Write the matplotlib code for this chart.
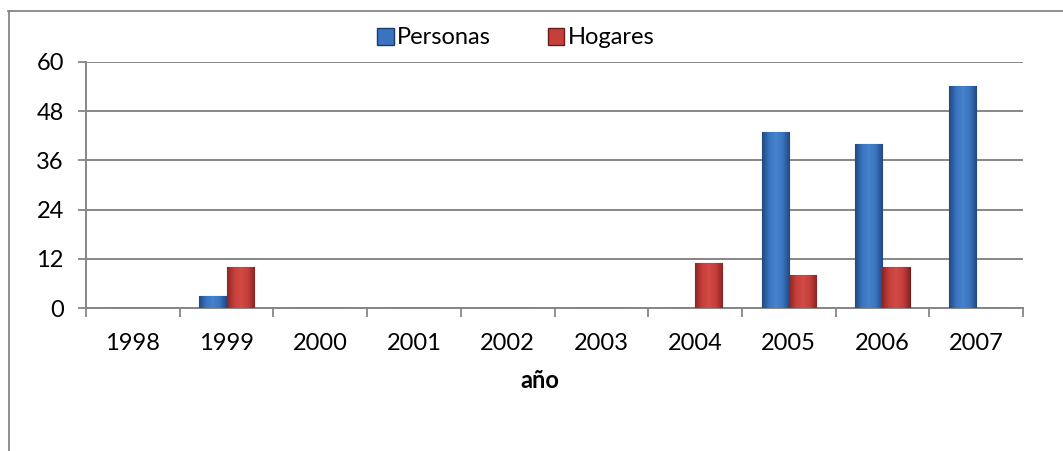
import numpy as np
import matplotlib
matplotlib.use("Agg")
from matplotlib import pyplot as plt
from matplotlib.patches import Patch
from matplotlib.lines import Line2D
from matplotlib.colors import LinearSegmentedColormap

years = ["1998", "1999", "2000", "2001", "2002", "2003", "2004", "2005", "2006", "2007"]
personas = [0, 3, 0, 0, 0, 0, 0, 43, 40, 54]
hogares = [0, 10, 0, 0, 0, 0, 11, 8, 10, 0]
y_ticks = [0, 12, 24, 36, 48, 60]

plt.rcParams["font.family"] = ["Lato", "DejaVu Sans"]

W, H = 1063, 451
fig = plt.figure(figsize=(W / 100, H / 100), dpi=100)
ax = fig.add_axes([86 / W, 1 - 308.3 / H, (1023 - 86) / W, (308.3 - 61.7) / H])

grey = "#868686"
x = np.arange(len(years))
bw = 0.29

b1 = ax.bar(x - bw / 2, personas, bw, color="#3a72bd", edgecolor="#1c3a66", linewidth=0.8, zorder=3)
b2 = ax.bar(x + bw / 2, hogares, bw, color="#c63f3b", edgecolor="#6a1e1c", linewidth=0.8, zorder=3)

# horizontal shading to mimic the bevelled bars
cm_blue = LinearSegmentedColormap.from_list("b", ["#21497f", "#3a74c0", "#4583cc", "#3a74c0", "#21497f"])
cm_red = LinearSegmentedColormap.from_list("r", ["#8a2624", "#c63f3b", "#d04a46", "#c63f3b", "#8a2624"])
grad = np.linspace(0, 1, 64).reshape(1, -1)
for bars, cm in ((b1, cm_blue), (b2, cm_red)):
    for p in bars:
        if p.get_height() <= 0:
            continue
        x0, y0 = p.get_x(), p.get_y()
        im = ax.imshow(grad, cmap=cm, aspect="auto", zorder=3.5,
                       extent=[x0, x0 + p.get_width(), y0, y0 + p.get_height()])
        im.set_clip_path(p)

ax.set_xlim(-0.5, len(years) - 0.5)
ax.set_ylim(0, 60)
ax.set_yticks(y_ticks)
ax.set_xticks(x)
ax.set_xticklabels(years)
ax.set_xticks(np.arange(len(years) + 1) - 0.5, minor=True)

ax.tick_params(axis="x", which="major", length=0, pad=18, labelsize=17)
ax.tick_params(axis="x", which="minor", length=6.5, width=1.3, color=grey, direction="out")
ax.tick_params(axis="y", length=6, width=1.3, color=grey, pad=10, labelsize=17)

ax.yaxis.grid(True, color=grey, linewidth=1.4, zorder=0)
ax.set_axisbelow(True)
for s in ("top", "right"):
    ax.spines[s].set_visible(False)
for s in ("left", "bottom"):
    ax.spines[s].set_color(grey)
    ax.spines[s].set_linewidth(1.4)

ax.set_xlabel("año", fontsize=17, fontweight="bold", va="center")
ax.xaxis.set_label_coords((540 - 86) / (1023 - 86), -(380 - 308.3) / (308.3 - 61.7))

handles = [Patch(facecolor="#3a74c0", edgecolor="#1c3a66"),
           Patch(facecolor="#c63f3b", edgecolor="#6a1e1c")]
fig.legend(handles, ["Personas", "Hogares"], loc="center", bbox_to_anchor=(516 / W, 1 - 38 / H),
           ncol=2, frameon=False, fontsize=17, handlelength=0.7, handleheight=0.7,
           handletextpad=0.15, columnspacing=2.4)

# chart area border (cropped on right and bottom)
fig.add_artist(Line2D([8 / W, 1], [1 - 10.5 / H, 1 - 10.5 / H], transform=fig.transFigure, color=grey, linewidth=1.3))
fig.add_artist(Line2D([8.5 / W, 8.5 / W], [0, 1 - 10.5 / H], transform=fig.transFigure, color=grey, linewidth=1.3))

fig.savefig("out.png", dpi=100)
